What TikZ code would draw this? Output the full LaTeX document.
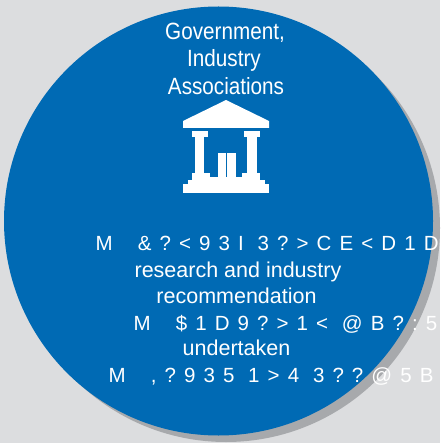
\documentclass[tikz,border=0pt]{standalone}
\usepackage{fontspec}
\setmainfont{Liberation Sans}
\newfontfamily\narrowfont{Liberation Sans}[FakeStretch=0.88]
\newfontfamily\trackfont{Liberation Sans}[LetterSpace=39.5]
\definecolor{bggrey}{RGB}{220,221,223}
\definecolor{shadowgrey}{RGB}{167,169,172}
\definecolor{discblue}{RGB}{0,106,180}
\tikzset{
  title/.style={text=white, inner sep=0pt, font=\narrowfont\fontsize{23.5}{27}\selectfont},
  body/.style={text=white, inner sep=0pt, font=\fontsize{21.5}{26}\selectfont},
  codeline/.style={text=white, inner sep=0pt, font=\trackfont\fontsize{20.5}{26}\selectfont}
}
\begin{document}
\begin{tikzpicture}[x=1pt,y=-1pt]
            \useasboundingbox (0,0) rectangle (440,443);
            \clip (0,0) rectangle (440,443);
            \fill[bggrey] (0,0) rectangle (440,443);
            % disc and its shadow
            \fill[shadowgrey] (226,228) circle[radius=214pt];
            \fill[discblue] (218.5,221) circle[radius=214.5pt];
            % heading
            \node[title, anchor=base] (gov) at (225,40) {Government,};
            \node[title, anchor=base] (ind) at (224,67) {Industry};
            \node[title, anchor=base] (assoc) at (226,95) {Associations};
            % building icon
            \begin{scope}[fill=white]
                \fill (183,128) -- (183,121) -- (226,100) -- (269,121) -- (269,128) -- cycle;
                \fill (191.7,130.7) rectangle (208.3,136.7);
                \fill (244,130.7) rectangle (260.3,136.7);
                \fill (195,136) rectangle (204.3,174);
                \fill (247,136) rectangle (256.7,174);
                \fill (191.7,173.3) rectangle (210,180.5);
                \fill (242,173.3) rectangle (260.3,180.5);
                \fill (209,176.7) rectangle (243,180.5);
                \fill (217.7,153.3) rectangle (225.7,178);
                \fill (227.3,153.3) rectangle (236,178);
                \fill (188.3,180) rectangle (265,184.6);
                \fill (183.3,184.3) rectangle (269.3,193.3);
            \end{scope}
            % text block
            \node[codeline, anchor=base west] (lineA) at (95.5,250) {M\hspace{25pt}\&?<93I 3?>CE<D1D};
            \node[body, anchor=base] (research) at (238,277) {research and industry};
            \node[body, anchor=base] (recomm) at (236.5,303) {recommendation};
            \node[codeline, anchor=base west] (lineB) at (133.5,330) {M\hspace{25pt}\$1D9?>1< @B?:5};
            \node[body, anchor=base] (under) at (236.5,355) {undertaken};
            \node[codeline, anchor=base west] (lineC) at (108.5,382) {M\hspace{25pt},?935 1>4 3??@5B};
        \end{tikzpicture}
\end{document}
